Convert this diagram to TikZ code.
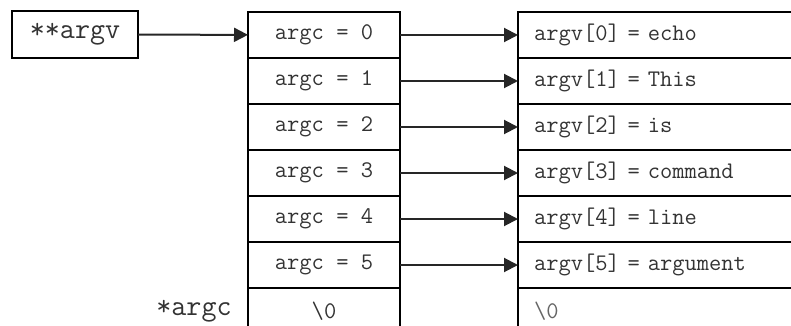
\documentclass[tikz,border=0pt]{standalone}
\usetikzlibrary{arrows.meta,positioning}

\begin{document}
\begin{tikzpicture}[
  x=0.5pt, y=-0.5pt,
  font=\ttfamily\fontsize{11.9}{13}\selectfont,
  cell/.style={draw, line width=1pt, outer sep=0pt, inner sep=0pt,
    minimum width=76pt, minimum height=23pt, text=black!80},
  entry/.style={cell, text width=134pt, align=left, inner xsep=8pt,
    minimum width=150pt},
  bigtext/.style={font=\ttfamily\fontsize{14.6}{16}\selectfont, text=black!80},
  ptr/.style={-{Triangle[length=7pt,width=7pt]}, line width=1pt, draw=black!85, fill=black}
]
\useasboundingbox (0,0) rectangle (791,326);

% pointer to the table
\node[cell, bigtext, minimum width=63pt, minimum height=23.5pt] (argv) at (75,34.5) {**argv};

% argc column
\node[cell] (c0) at (324,35) {argc = 0};
\foreach \i in {1,...,5} {
  \pgfmathtruncatemacro\j{\i-1}
  \node[cell, below=0pt of c\j] (c\i) {argc = \i};
}
\node[cell, below=0pt of c5] (c6) {\textbackslash 0};
\node[bigtext, inner sep=0pt, left=8pt of c6] (argc) {*argc};

% argv column
\node[entry, right=59pt of c0] (r0) {argv[0] = echo};
\foreach \i/\w in {1/This,2/is,3/command,4/line,5/argument} {
  \pgfmathtruncatemacro\j{\i-1}
  \node[entry, below=0pt of r\j] (r\i) {argv[\i] = \w};
}
\node[entry, below=0pt of r5, text=black!60] (r6) {\textbackslash 0};

\draw[ptr] (argv) -- (c0);
\foreach \i in {0,...,5}
  \draw[ptr] (c\i) -- (r\i);
\end{tikzpicture}
\end{document}
